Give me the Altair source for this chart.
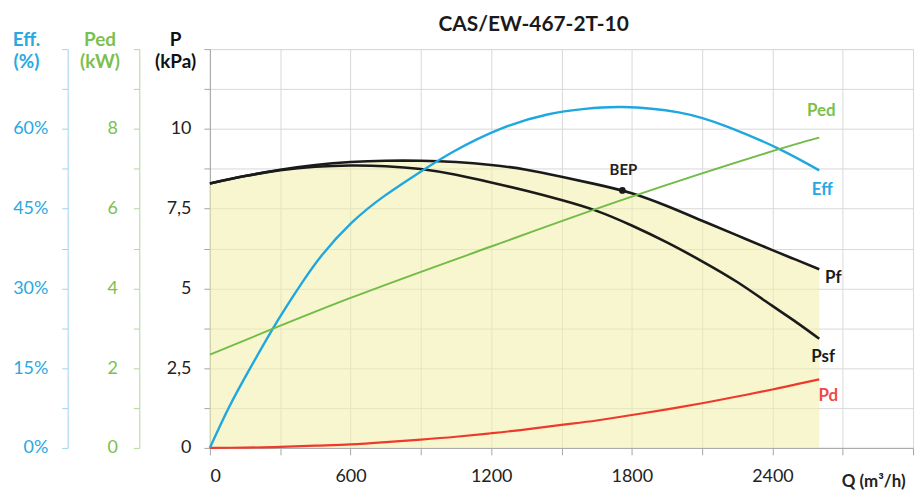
import json
import altair as alt
import pandas as pd

# ---------------- data ----------------
TITLE = "CAS/EW-467-2T-10"

Q = [0, 150, 300, 450, 600, 750, 900, 1050, 1200, 1350, 1500, 1650, 1800,
     1950, 2100, 2250, 2400, 2500, 2600]
PF = [8.29, 8.52, 8.72, 8.87, 8.96, 9.00, 9.00, 8.96, 8.87, 8.72, 8.50, 8.26,
      7.98, 7.58, 7.12, 6.66, 6.20, 5.90, 5.60]
PSF = [8.29, 8.52, 8.70, 8.81, 8.85, 8.83, 8.74, 8.56, 8.32, 8.06, 7.77, 7.43,
       6.97, 6.44, 5.85, 5.20, 4.45, 3.95, 3.42]
PD = [0.0, 0.01, 0.03, 0.07, 0.11, 0.18, 0.26, 0.35, 0.46, 0.58, 0.72, 0.86,
      1.03, 1.21, 1.40, 1.61, 1.83, 1.99, 2.15]

EFF_Q = [0, 80, 172, 293, 392, 477, 604, 745, 901, 1042, 1240, 1440, 1600,
         1760, 2000, 2215, 2430, 2600]
EFF = [0.0, 7.5, 15.0, 24.2, 31.0, 36.2, 42.3, 47.4, 52.0, 55.8, 60.0, 62.7,
       63.75, 64.1, 63.1, 60.3, 56.2, 52.2]              # %

PED_Q = [0, 600, 1200, 1800, 2400, 2600]
PED = [2.34, 3.76, 5.05, 6.30, 7.44, 7.78]              # kW

BEP_Q = [1760]
BEP_P = [8.07]

Q_TICKS = [0, 300, 600, 900, 1200, 1500, 1800, 2100, 2400, 2700, 3000]
Q_LABELS = [0, 600, 1200, 1800, 2400]
P_TICKS = [0, 1.25, 2.5, 3.75, 5, 6.25, 7.5, 8.75, 10, 11.25, 12.5]
P_LABELS = [0, 2.5, 5, 7.5, 10]
EFF_TICKS = [0, 7.5, 15, 22.5, 30, 37.5, 45, 52.5, 60, 67.5, 75]
EFF_LABELS = [0, 15, 30, 45, 60]
PED_TICKS = [0, 1, 2, 3, 4, 5, 6, 7, 8, 9, 10]
PED_LABELS = [0, 2, 4, 6, 8]

# ---------------- tables ----------------
df = pd.DataFrame({"Q": Q, "Pf": PF, "Psf": PSF, "Pd": PD})
df_eff = pd.DataFrame({"Q": EFF_Q, "Eff": EFF})
df_ped = pd.DataFrame({"Q": PED_Q, "Ped": PED})
df_bep = pd.DataFrame({"Q": BEP_Q, "P": BEP_P})

FONT = "Lato"
BLUE = "#1FA7DF"
GREEN = "#72BB47"
RED = "#EE3A2C"
BLACK = "#1A1A1A"
GRID = "#D9D9D9"
AXIS_GRAY = "#A6A6A6"
SMOOTH = "natural"


def lbl(values, expr):
    return "indexof(%s, datum.value) >= 0 ? %s : ''" % (json.dumps(values), expr)


x_enc = alt.X(
    "Q:Q",
    scale=alt.Scale(domain=[0, 3000], nice=False),
    axis=alt.Axis(
        values=Q_TICKS, labelExpr=lbl(Q_LABELS, "format(datum.value, 'd')"),
        grid=True, gridColor=GRID, domainColor=AXIS_GRAY, tickColor=AXIS_GRAY,
        tickSize=7, labelPadding=22, labelFont=FONT, labelFontSize=18,
        labelColor="#222222", labelBaseline="middle",
        title="Q (m³/h)", titleX=699, titleY=34, titleAlign="right",
        titleBaseline="middle", titleFont=FONT, titleFontSize=17,
        titleFontWeight="bold", titleColor="#222222",
    ),
)

p_axis = alt.Axis(
    orient="left", values=P_TICKS,
    labelExpr=lbl(P_LABELS, "replace(format(datum.value, '~g'), '.', ',')"),
    grid=True, gridColor=GRID, domainColor=AXIS_GRAY, tickColor=AXIS_GRAY,
    tickSize=6, labelPadding=13, labelFont=FONT, labelFontSize=18,
    labelColor="#222222",
    title=["P", "(kPa)"], titleAngle=0, titleX=-35, titleY=-4,
    titleAlign="center", titleBaseline="alphabetic", titleLineHeight=23,
    titleFont=FONT, titleFontSize=19, titleFontWeight="bold",
    titleColor="#111111",
)
p_scale = alt.Scale(domain=[0, 12.5], nice=False)


def py(field):
    return alt.Y(field + ":Q", scale=p_scale, axis=p_axis, stack=None)


base = alt.Chart(df)
fill = base.mark_area(color="#F3EFA6", opacity=0.55, interpolate=SMOOTH).encode(
    x=x_enc, y=py("Pf"))
pf = base.mark_line(color=BLACK, strokeWidth=2.6, interpolate=SMOOTH).encode(
    x=x_enc, y=py("Pf"))
psf = base.mark_line(color=BLACK, strokeWidth=2.6, interpolate=SMOOTH).encode(
    x=x_enc, y=py("Psf"))
pd_line = base.mark_line(color=RED, strokeWidth=2.2, interpolate=SMOOTH).encode(
    x=x_enc, y=py("Pd"))
bep = alt.Chart(df_bep).mark_point(filled=True, color=BLACK, size=45, opacity=1).encode(
    x=x_enc, y=py("P"))
bep_t = alt.Chart(df_bep).mark_text(
    text="BEP", font=FONT, fontSize=15, fontWeight="bold", color="#222222",
    dx=1, dy=-21).encode(x=x_enc, y=py("P"))

end = alt.Chart(df.tail(1))
t_pf = end.mark_text(text="Pf", font=FONT, fontSize=17, fontWeight="bold",
                     color=BLACK, dx=14, dy=9).encode(x=x_enc, y=py("Pf"))
t_psf = end.mark_text(text="Psf", font=FONT, fontSize=17, fontWeight="bold",
                      color=BLACK, dx=4, dy=18).encode(x=x_enc, y=py("Psf"))
t_pd = end.mark_text(text="Pd", font=FONT, fontSize=17, fontWeight="bold",
                     color="#F04A45", dx=9, dy=17).encode(x=x_enc, y=py("Pd"))

p_layer = alt.layer(fill, pf, psf, pd_line, bep, bep_t, t_pf, t_psf, t_pd)

# Efficiency
eff_scale = alt.Scale(domain=[0, 75], nice=False)
eff_axis = alt.Axis(
    orient="left", offset=143, values=EFF_TICKS,
    labelExpr=lbl(EFF_LABELS, "format(datum.value, 'd') + '%'"),
    grid=False, domainColor="#9CD4EF", tickColor="#9CD4EF", tickSize=6,
    labelPadding=14, labelFont=FONT, labelFontSize=18, labelColor="#2AA8E0",
    title=["Eff.", "(%)"], titleAngle=0, titleX=-42, titleY=-4,
    titleAlign="center", titleBaseline="alphabetic", titleLineHeight=23,
    titleFont=FONT, titleFontSize=19, titleFontWeight="bold",
    titleColor="#2AA8E0",
)
eff_y = alt.Y("Eff:Q", scale=eff_scale, axis=eff_axis)
eff_line = alt.Chart(df_eff).mark_line(
    color=BLUE, strokeWidth=2.4, interpolate=SMOOTH).encode(x=x_enc, y=eff_y)
t_eff = alt.Chart(df_eff.tail(1)).mark_text(
    text="Eff", font=FONT, fontSize=17, fontWeight="bold", color="#2AA8E0",
    dx=3, dy=20).encode(x=x_enc, y=eff_y)
eff_layer = alt.layer(eff_line, t_eff)

# Power
ped_scale = alt.Scale(domain=[0, 10], nice=False)
ped_axis = alt.Axis(
    orient="left", offset=71, values=PED_TICKS,
    labelExpr=lbl(PED_LABELS, "format(datum.value, 'd')"),
    grid=False, domainColor="#B4D99B", tickColor="#B4D99B", tickSize=6,
    labelPadding=16, labelFont=FONT, labelFontSize=18, labelColor="#7CBF4F",
    title=["Ped", "(kW)"], titleAngle=0, titleX=-40, titleY=-4,
    titleAlign="center", titleBaseline="alphabetic", titleLineHeight=23,
    titleFont=FONT, titleFontSize=19, titleFontWeight="bold",
    titleColor="#7CBF4F",
)
ped_y = alt.Y("Ped:Q", scale=ped_scale, axis=ped_axis)
ped_line = alt.Chart(df_ped).mark_line(
    color=GREEN, strokeWidth=1.9, interpolate=SMOOTH).encode(x=x_enc, y=ped_y)
t_ped = alt.Chart(df_ped.tail(1)).mark_text(
    text="Ped", font=FONT, fontSize=17, fontWeight="bold", color="#7CBF4F",
    dx=2, dy=-27).encode(x=x_enc, y=ped_y)
ped_layer = alt.layer(ped_line, t_ped)

chart = (
    alt.layer(p_layer, eff_layer, ped_layer)
    .resolve_scale(y="independent")
    .properties(
        width=707, height=401,
        padding={"left": 4, "top": 5, "right": 0, "bottom": 0},
        title=alt.TitleParams(TITLE, font=FONT, fontSize=21, fontWeight="bold",
                              color="#1A1A1A", anchor="middle", dx=-28, offset=-5),
    )
    .configure_view(stroke=None)
    .configure(background="white")
)

chart.save("out.html", embed_options={"renderer": "svg", "actions": False})
